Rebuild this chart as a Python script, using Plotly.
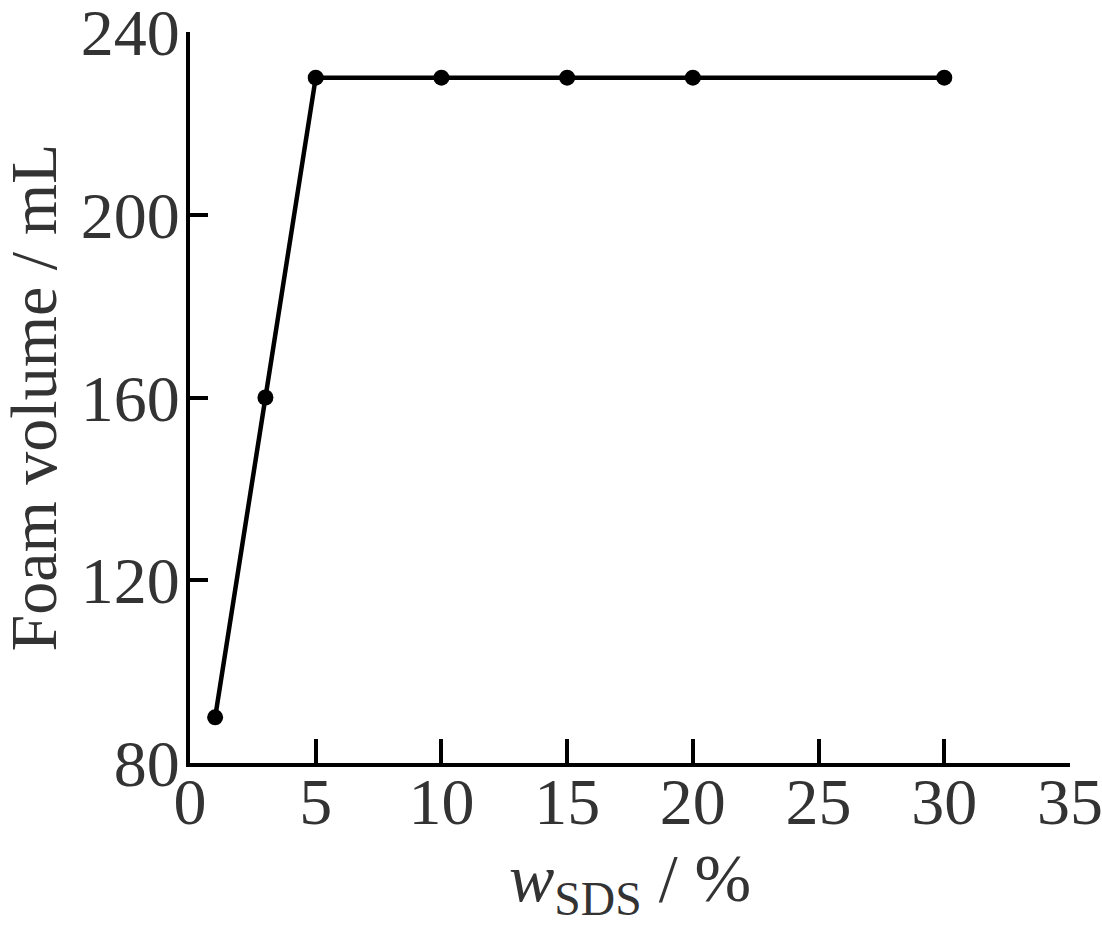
import plotly.graph_objects as go

x_sds = [1, 3, 5, 10, 15, 20, 30]
foam_volume = [90, 160, 230, 230, 230, 230, 230]
x_ticks = [0, 5, 10, 15, 20, 25, 30, 35]
y_ticks = [80, 120, 160, 200, 240]
x_title = "<i>w</i><sub>SDS</sub> / %"
y_title = "Foam volume / mL"

FONT = "Liberation Serif, Times New Roman, serif"
TXT = "#333333"

fig = go.Figure()
fig.add_trace(go.Scatter(
    x=x_sds, y=foam_volume, mode="lines+markers",
    line=dict(color="black", width=4.5),
    marker=dict(color="black", size=16),
    showlegend=False, hoverinfo="skip",
))

fig.update_layout(
    width=1102, height=937,
    margin=dict(l=190, r=32, t=32, b=174),
    paper_bgcolor="white", plot_bgcolor="white",
    font=dict(family=FONT, size=66, color=TXT),
)
fig.update_xaxes(
    range=[0, 35], tickvals=x_ticks, ticks="inside", ticklen=24, tickwidth=4,
    tickcolor="black", showline=True, linecolor="black", linewidth=4,
    showgrid=False, zeroline=False, automargin=False, ticklabeloverflow="allow",
    ticklabelstandoff=-22,
    tickfont=dict(family=FONT, size=66, color=TXT),
)
fig.update_yaxes(
    range=[80, 240], tickvals=y_ticks, ticks="inside", ticklen=18, tickwidth=4,
    tickcolor="black", showline=True, linecolor="black", linewidth=4,
    showgrid=False, zeroline=False, automargin=False, ticklabeloverflow="allow",
    ticklabelstandoff=-7,
    tickfont=dict(family=FONT, size=66, color=TXT),
)

fig.add_annotation(
    text=x_title, xref="paper", yref="paper", x=0.5, y=0,
    xanchor="center", yanchor="middle", yshift=-119, showarrow=False,
    font=dict(family=FONT, size=68, color=TXT),
)
fig.add_annotation(
    text=y_title, xref="paper", yref="paper", x=0, y=0.5,
    xanchor="center", yanchor="middle", xshift=-157, textangle=-90, showarrow=False,
    font=dict(family=FONT, size=66, color=TXT),
)

fig.write_html("out.html", config={"displayModeBar": False},
               post_script="document.body.style.margin='0px';")
